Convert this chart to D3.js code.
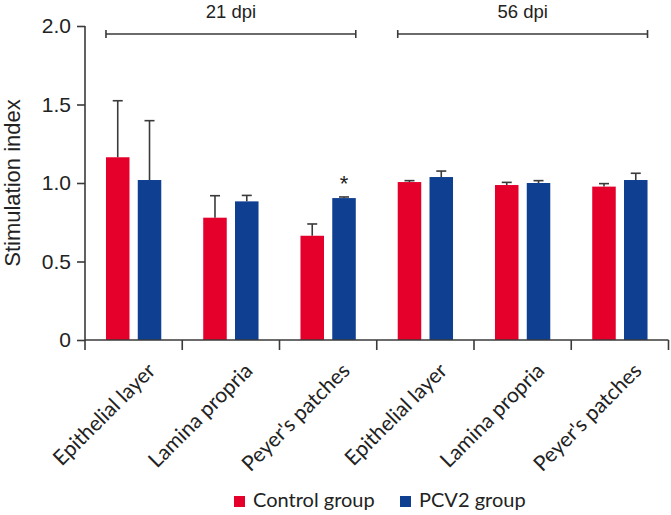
<!DOCTYPE html>
<html>
<head>
<meta charset="utf-8">
<script src="https://cdn.jsdelivr.net/npm/d3@7"></script>
<style>
  html, body { margin: 0; padding: 0; background: #fff; }
  svg { display: block; }
</style>
</head>
<body>
<svg id="chart" width="671" height="515"></svg>
<script>
// ---- data ----
const categories = ["Epithelial layer", "Lamina propria", "Peyer's patches", "Epithelial layer ", "Lamina propria ", "Peyer's patches "];
const categoryLabels = ["Epithelial layer", "Lamina propria", "Peyer's patches", "Epithelial layer", "Lamina propria", "Peyer's patches"];
const seriesNames = ["Control group", "PCV2 group"];
const controlMean = [1.164, 0.779, 0.664, 1.006, 0.987, 0.977];
const controlErr  = [0.360, 0.140, 0.075, 0.009, 0.017, 0.019];
const pcv2Mean    = [1.019, 0.883, 0.904, 1.038, 1.000, 1.019];
const pcv2Err     = [0.378, 0.038, 0.007, 0.038, 0.015, 0.043];
const yTicks = [0, 0.5, 1.0, 1.5, 2.0];
const yTickLabels = ["0", "0.5", "1.0", "1.5", "2.0"];
const periods = ["21 dpi", "56 dpi"];
const periodGroups = [[0, 2], [3, 5]];
const significant = [{cat: 2, series: 1, label: "*"}];
const colors = ["#e4002b", "#0f3f91"];

(function () {
const svg = d3.select("#chart");
const axisColor = "#3a3a3a";
const mLeft = 85, mRight = 668.5, mTop = 26, mBottom = 340;

const y = d3.scaleLinear().domain([0, 2]).range([mBottom, mTop]);
const x = d3.scaleBand().domain(categories).range([mLeft, mRight]).padding(0);
const x1 = d3.scaleBand().domain(seriesNames).range([0, x.bandwidth()])
  .paddingInner(0.26).paddingOuter(0.66);

const series = [
  {name: seriesNames[0], mean: controlMean, err: controlErr, color: colors[0]},
  {name: seriesNames[1], mean: pcv2Mean, err: pcv2Err, color: colors[1]}
];

// bars
series.forEach((s) => {
  const g = svg.append("g");
  g.selectAll("rect").data(categories).join("rect")
    .attr("x", (c) => x(c) + x1(s.name))
    .attr("y", (c, i) => y(s.mean[i]))
    .attr("width", x1.bandwidth())
    .attr("height", (c, i) => y(0) - y(s.mean[i]))
    .attr("fill", s.color);
  // error bars (upper only)
  const eb = svg.append("g").attr("stroke", axisColor).attr("stroke-width", 1.6);
  categories.forEach((c, i) => {
    const cx = x(c) + x1(s.name) + x1.bandwidth() / 2;
    const yt = y(s.mean[i] + s.err[i]);
    eb.append("line").attr("x1", cx).attr("x2", cx).attr("y1", y(s.mean[i])).attr("y2", yt);
    eb.append("line").attr("x1", cx - 5).attr("x2", cx + 5).attr("y1", yt).attr("y2", yt);
  });
});

// significance markers
significant.forEach((m) => {
  const s = series[m.series];
  const c = categories[m.cat];
  const cx = x(c) + x1(s.name) + x1.bandwidth() / 2;
  svg.append("text").attr("x", cx).attr("y", y(s.mean[m.cat] + s.err[m.cat]) - 6)
    .attr("text-anchor", "middle").attr("font-family", "Liberation Sans, Arial, sans-serif")
    .attr("font-size", 22).attr("fill", "#222").text(m.label);
});

// y axis
const yAxis = d3.axisLeft(y).tickValues(yTicks).tickFormat((d, i) => yTickLabels[i]).tickSize(8).tickPadding(6);
const gy = svg.append("g").attr("transform", `translate(${mLeft},0)`).call(yAxis);
gy.select(".domain").attr("stroke", axisColor).attr("stroke-width", 1.6).attr("d", `M0,${mTop}V${mBottom}`);
gy.selectAll(".tick line").attr("stroke", axisColor).attr("stroke-width", 1.6);
gy.selectAll(".tick text").attr("font-family", "Liberation Sans, Arial, sans-serif").attr("font-size", 21).attr("fill", "#222");

// x axis: line with ticks at band boundaries
const gx = svg.append("g");
gx.append("line").attr("x1", mLeft).attr("x2", mRight).attr("y1", mBottom).attr("y2", mBottom)
  .attr("stroke", axisColor).attr("stroke-width", 1.6);
const boundaries = categories.map((c) => x(c)).concat([x(categories[categories.length - 1]) + x.bandwidth()]);
gx.selectAll("line.tk").data(boundaries).join("line").attr("class", "tk")
  .attr("x1", (d) => d).attr("x2", (d) => d).attr("y1", mBottom).attr("y2", mBottom + 10)
  .attr("stroke", axisColor).attr("stroke-width", 1.6);
gx.selectAll("text").data(categories).join("text")
  .attr("transform", (c) => `translate(${x(c) + x.bandwidth() / 2 + 23},${mBottom + 32}) rotate(-45)`)
  .attr("text-anchor", "end")
  .attr("font-family", "Lato, sans-serif").attr("font-size", 21).attr("fill", "#222")
  .text((c, i) => categoryLabels[i]);

// y label
svg.append("text").attr("transform", `translate(20,183) rotate(-90)`)
  .attr("text-anchor", "middle").attr("font-family", "Liberation Sans, Arial, sans-serif")
  .attr("font-size", 22).attr("fill", "#222").text("Stimulation index");

// period brackets
periodGroups.forEach((pg, k) => {
  const x0 = x(categories[pg[0]]) + x1(seriesNames[0]);
  const xe = x(categories[pg[1]]) + x1(seriesNames[1]) + x1.bandwidth();
  const by = 34;
  const g = svg.append("g").attr("stroke", axisColor).attr("stroke-width", 1.6);
  g.append("line").attr("x1", x0).attr("x2", xe).attr("y1", by).attr("y2", by);
  g.append("line").attr("x1", x0).attr("x2", x0).attr("y1", by - 4).attr("y2", by + 4);
  g.append("line").attr("x1", xe).attr("x2", xe).attr("y1", by - 4).attr("y2", by + 4);
  svg.append("text").attr("x", (x0 + xe) / 2).attr("y", 18).attr("text-anchor", "middle")
    .attr("font-family", "Liberation Sans, Arial, sans-serif").attr("font-size", 18.5).attr("fill", "#222").text(periods[k]);
});

// legend
const legend = svg.append("g");
const legendX = [234, 400];
series.forEach((s, i) => {
  legend.append("rect").attr("x", legendX[i]).attr("y", 496).attr("width", 11).attr("height", 11).attr("fill", s.color);
  legend.append("text").attr("x", legendX[i] + 19).attr("y", 507)
    .attr("font-family", "Lato, sans-serif").attr("font-size", 20).attr("fill", "#222").text(s.name);
});
})();
</script>
</body>
</html>
